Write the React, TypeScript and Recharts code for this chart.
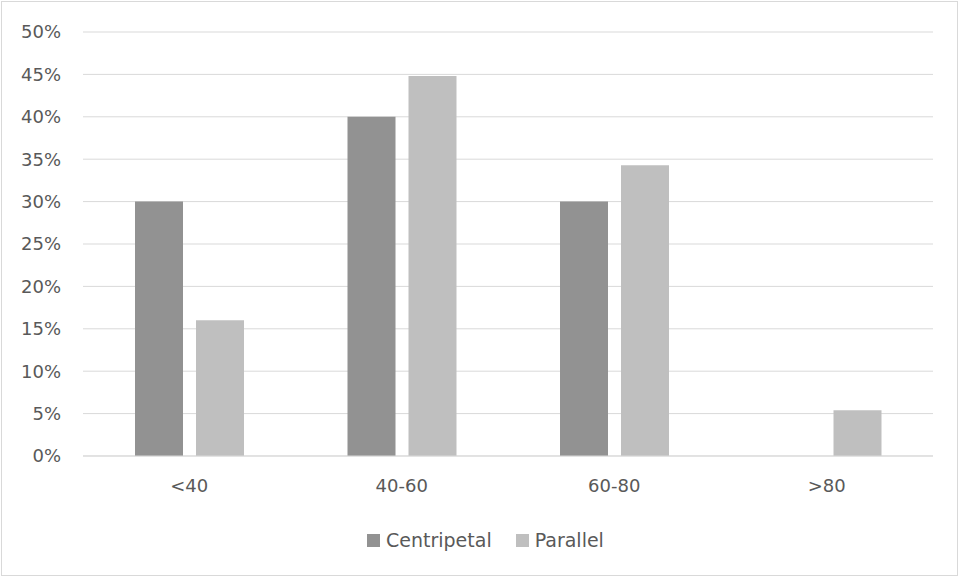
import React from "react";
import { BarChart, Bar, XAxis, YAxis, CartesianGrid, Legend } from "recharts";

const categories = ["<40", "40-60", "60-80", ">80"];
const centripetal = [30, 40, 30, 0];
const parallel = [16, 44.8, 34.3, 5.4];
const yTicks = [0, 5, 10, 15, 20, 25, 30, 35, 40, 45, 50];

const seriesNames = ["Centripetal", "Parallel"];
const seriesColors = ["#929292", "#bfbfbf"];

const data = categories.map((c, i) => ({
  name: c,
  Centripetal: centripetal[i],
  Parallel: parallel[i],
}));

const FONT = "'DejaVu Sans', sans-serif";
const TEXT = "#595959";

const LegendContent = () => (
  <div style={{ display: "flex", alignItems: "center", height: 30, paddingLeft: 367, fontFamily: FONT, fontSize: 19, color: TEXT }}>
    {seriesNames.map((n, i) => (
      <div key={n} style={{ display: "flex", alignItems: "center", marginRight: 24 }}>
        <span style={{ display: "inline-block", width: 13, height: 13, background: seriesColors[i], marginRight: 6 }} />
        <span>{n}</span>
      </div>
    ))}
  </div>
);

export default function App() {
  return (
    <div style={{ position: "absolute", left: 0, top: 0, width: 961, height: 578, background: "#fff" }}>
      <div style={{ position: "absolute", left: 1, top: 1, width: 957, height: 575, border: "1px solid #d9d9d9", boxSizing: "border-box" }} />
      <BarChart
        width={961}
        height={578}
        data={data}
        margin={{ top: 32, right: 28, left: 0, bottom: 52 }}
        barSize={48}
        barGap={13}
      >
        <CartesianGrid vertical={false} stroke="#d9d9d9" strokeWidth={1} />
        <XAxis
          dataKey="name"
          height={40}
          tickLine={false}
          axisLine={{ stroke: "#d9d9d9" }}
          tickSize={0}
          tickMargin={23}
          tick={{ fill: TEXT, fontSize: 18, fontFamily: FONT }}
        />
        <YAxis
          width={83}
          domain={[0, 50]}
          ticks={yTicks}
          interval={0}
          tickFormatter={(v) => `${v}%`}
          axisLine={false}
          tickLine={false}
          tickSize={0}
          tickMargin={22}
          tick={{ fill: TEXT, fontSize: 18, fontFamily: FONT }}
        />
        <Legend
          verticalAlign="bottom"
          content={<LegendContent />}
          wrapperStyle={{ left: 0, top: 525, width: 961, height: 30 }}
        />
        <Bar dataKey="Centripetal" fill={seriesColors[0]} isAnimationActive={false} />
        <Bar dataKey="Parallel" fill={seriesColors[1]} isAnimationActive={false} />
      </BarChart>
    </div>
  );
}
